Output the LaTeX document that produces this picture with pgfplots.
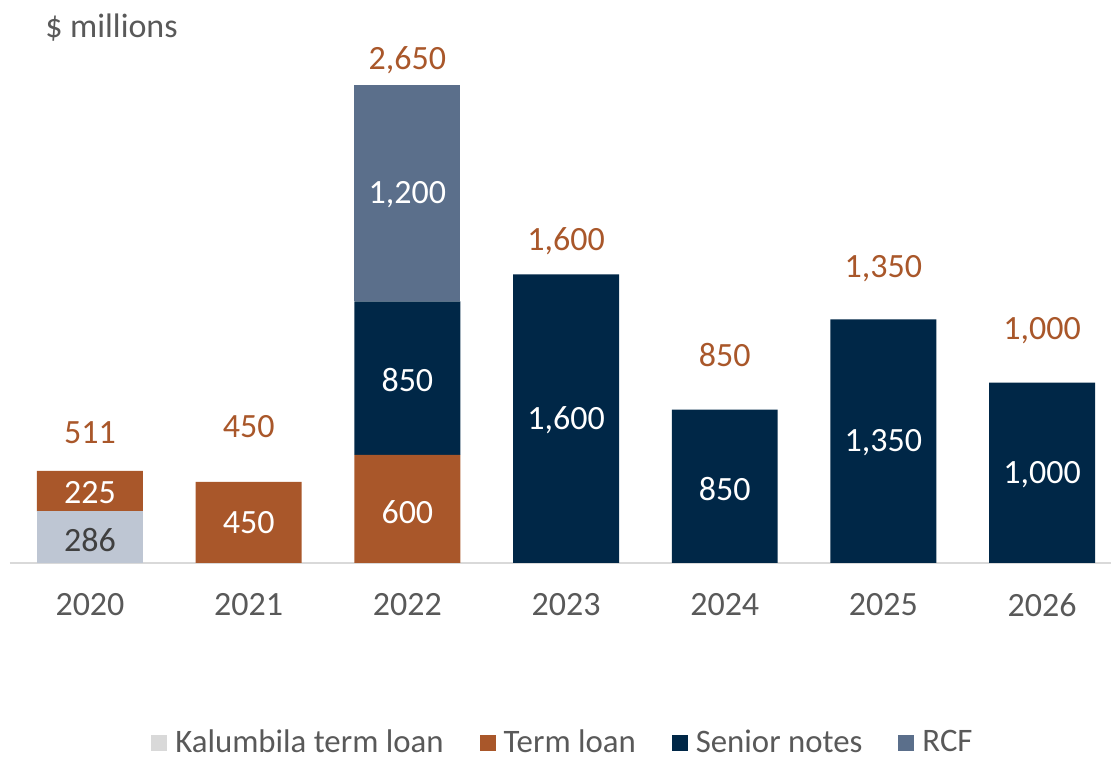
\documentclass[border=0pt]{standalone}
\usepackage{pgfplots}
\pgfplotsset{compat=1.18}
\usepackage{fontspec}
\setmainfont{Carlito}
\definecolor{kal}{HTML}{BEC6D3}
\definecolor{kallegend}{HTML}{D9D9D9}
\definecolor{term}{HTML}{A9572A}
\definecolor{senior}{HTML}{002747}
\definecolor{rcf}{HTML}{5B6F8B}
\definecolor{txtgray}{HTML}{595959}
\definecolor{linegray}{HTML}{D9D9D9}
\begin{document}
\begin{tikzpicture}[font=\fontsize{17}{20}\selectfont]
\pgfplotsset{
  common/.style={
    x=79.35pt, y=0.0902pt,
    xmin=-0.505, xmax=6.434,
    ymin=0, ymax=2650,
    clip=false,
  },
}
\begin{axis}[common,
  ybar stacked, bar width=53pt,
  axis x line=bottom, axis y line=none,
  x axis line style={draw=linegray, line width=1pt, -},
  xtick={0,...,6},
  xticklabels={2020,2021,2022,2023,2024,2025,2026},
  major tick length=0pt,
  xticklabel style={text=txtgray, yshift=-11.5pt},
  legend columns=4,
  legend style={draw=none, fill=none, at={(0.505,-0.376)}, anchor=center,
    text=txtgray, font=\fontsize{16.4}{19}\selectfont,
    /tikz/every even column/.append style={column sep=14pt},
    nodes={inner xsep=4pt, inner ysep=1pt}},
]
\addplot[fill=kal, draw=none,
  legend image code/.code={\fill[kallegend] (0pt,-4pt) rectangle (8pt,4pt);}]
  coordinates {(0,286) (1,0) (2,0) (3,0) (4,0) (5,0) (6,0)};
\addlegendentry{Kalumbila term loan}
\addplot[fill=term, draw=none,
  legend image code/.code={\fill[term] (0pt,-4pt) rectangle (8pt,4pt);}]
  coordinates {(0,225) (1,450) (2,600) (3,0) (4,0) (5,0) (6,0)};
\addlegendentry{Term loan}
\addplot[fill=senior, draw=none,
  legend image code/.code={\fill[senior] (0pt,-4pt) rectangle (8pt,4pt);}]
  coordinates {(0,0) (1,0) (2,850) (3,1600) (4,850) (5,1350) (6,1000)};
\addlegendentry{Senior notes}
\addplot[fill=rcf, draw=none,
  legend image code/.code={\fill[rcf] (0pt,-4pt) rectangle (8pt,4pt);}]
  coordinates {(0,0) (1,0) (2,1200) (3,0) (4,0) (5,0) (6,0)};
\addlegendentry{RCF}
\node[anchor=west, text=txtgray] at (axis cs:-0.326,2966) {\$ millions};
\coordinate (bbsw) at (axis cs:-0.567,-1081);
\coordinate (bbne) at (axis cs:6.434,3121);
\end{axis}
\begin{axis}[common, hide axis]
% totals
\addplot[only marks, mark=none, nodes near coords, point meta=explicit symbolic,
  nodes near coords style={anchor=center, text=term}]
  table[meta=lab]{
x y lab
0 721 511
1 754 450
2 2788 {2,650}
3 1785 {1,600}
4 1153 850
5 1630 {1,350}
6 1286 {1,000}
};
% segment labels (white)
\addplot[only marks, mark=none, nodes near coords, point meta=explicit symbolic,
  nodes near coords style={anchor=center, text=white}]
  table[meta=lab]{
x y lab
0 388 225
1 222 450
2 283 600
2 1014 850
2 2040 {1,200}
3 793 {1,600}
4 410 850
5 665 {1,350}
6 488 {1,000}
};
% segment label (dark)
\addplot[only marks, mark=none, nodes near coords, point meta=explicit symbolic,
  nodes near coords style={anchor=center, text=black!75}]
  table[meta=lab]{
x y lab
0 127 286
};
\end{axis}
\pgfresetboundingbox
\path[use as bounding box] (bbsw) rectangle (bbne);
\end{tikzpicture}
\end{document}
